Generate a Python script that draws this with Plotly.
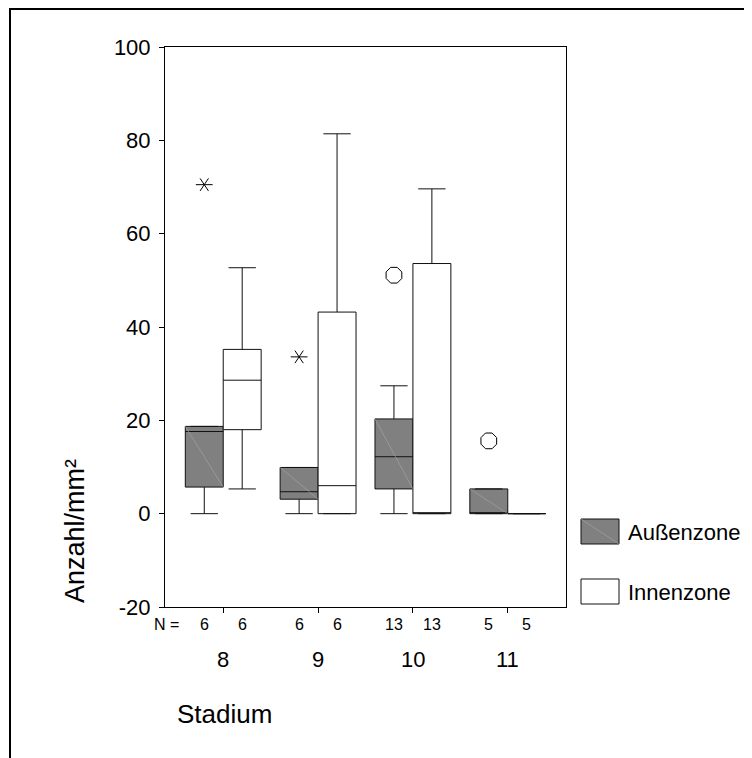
import plotly.graph_objects as go

# ---- data ----
stadien = ["8", "9", "10", "11"]
n_aussen = [6, 6, 13, 5]
n_innen = [6, 6, 13, 5]

aussen_q1 = [5.7, 3.1, 5.3, 0.0]
aussen_median = [17.6, 4.7, 12.2, 0.0]
aussen_q3 = [18.7, 9.9, 20.3, 5.3]
aussen_lower = [0.0, 0.0, 0.0, 0.0]
aussen_upper = [18.7, 9.9, 27.4, 5.3]

innen_q1 = [18.0, 0.0, 0.0, 0.0]
innen_median = [28.6, 6.0, 0.0, 0.0]
innen_q3 = [35.2, 43.2, 53.6, 0.0]
innen_lower = [5.3, 0.0, 0.0, 0.0]
innen_upper = [52.7, 81.4, 69.6, 0.0]

# outliers of the Außenzone (extremes = star, outliers = circle)
extreme_stadium_idx = [0, 1]
extreme_values = [70.5, 33.6]
outlier_stadium_idx = [2, 3]
outlier_values = [51.1, 15.6]

y_ticks = [-20, 0, 20, 40, 60, 80, 100]
y_ticktext = ["-20", "0", "20", "40", "60", "80", "100"]

FONT = "Arial, Liberation Sans, sans-serif"
GREY = "#808080"
# page body has an 8px default margin: work in page pixels, shift by it
OFF_PAGE = 8
W, H = 752 - OFF_PAGE, 758 - OFF_PAGE
PL, PR, PT, PB = 165, 566, 47, 607  # plot area in page pixels
L, T = PL - OFF_PAGE, PT - OFF_PAGE
R = W - (PR - OFF_PAGE)
B = H - (PB - OFF_PAGE)
PW, PH = PR - PL, PB - PT

def px_x(px):
    return (px - PL) / PW

def px_y(py):
    return (PB - py) / PH

idx = list(range(len(stadien)))
OFF = 0.2

fig = go.Figure()
fig.add_trace(go.Box(
    x=idx, q1=aussen_q1, median=aussen_median, q3=aussen_q3,
    lowerfence=aussen_lower, upperfence=aussen_upper,
    name="Außenzone", fillcolor=GREY, line=dict(color="#111111", width=1),
    whiskerwidth=0.72, boxpoints=False, showlegend=False, hoverinfo="skip",
))
fig.add_trace(go.Box(
    x=idx, q1=innen_q1, median=innen_median, q3=innen_q3,
    lowerfence=innen_lower, upperfence=innen_upper,
    name="Innenzone", fillcolor="white", line=dict(color="#111111", width=1),
    whiskerwidth=0.72, boxpoints=False, showlegend=False, hoverinfo="skip",
))

# extremes as six-armed stars (two Y symbols combined)
ex_x = [i - OFF for i in extreme_stadium_idx]
for sym in ["y-left-open", "y-right-open"]:
    fig.add_trace(go.Scatter(
        x=ex_x, y=extreme_values, mode="markers",
        marker=dict(symbol=sym, size=10.5, color="black",
                    line=dict(color="black", width=1)),
        showlegend=False, hoverinfo="skip",
    ))
fig.add_trace(go.Scatter(
    x=[i - OFF for i in outlier_stadium_idx], y=outlier_values, mode="markers",
    marker=dict(symbol="octagon-open", size=17, color="black",
                line=dict(color="black", width=1)),
    showlegend=False, hoverinfo="skip",
))

shapes = []
# faint diagonal artefact inside grey boxes
for i in idx:
    shapes.append(dict(type="line", xref="x", yref="y",
                       x0=i - 2 * OFF, y0=aussen_q3[i], x1=i, y1=aussen_q1[i],
                       line=dict(color="#a8a8a8", width=0.6), layer="above"))

# outer frame
shapes.append(dict(type="rect", xref="paper", yref="paper",
                   x0=px_x(10), y0=px_y(800), x1=px_x(800), y1=px_y(9),
                   line=dict(color="black", width=2), fillcolor="rgba(0,0,0,0)"))

# legend boxes
shapes.append(dict(type="rect", xref="paper", yref="paper",
                   x0=px_x(581), x1=px_x(619), y0=px_y(544), y1=px_y(519),
                   line=dict(color="#111111", width=1), fillcolor=GREY))
shapes.append(dict(type="line", xref="paper", yref="paper",
                   x0=px_x(581), x1=px_x(619), y0=px_y(519), y1=px_y(544),
                   line=dict(color="#a8a8a8", width=0.6)))
shapes.append(dict(type="rect", xref="paper", yref="paper",
                   x0=px_x(581), x1=px_x(619), y0=px_y(604), y1=px_y(579),
                   line=dict(color="#111111", width=1), fillcolor="white"))

annotations = []
annotations.append(dict(text="Außenzone", xref="paper", yref="paper",
                        x=px_x(626), y=px_y(532), xanchor="left", yanchor="middle",
                        showarrow=False, font=dict(family=FONT, size=22, color="black")))
annotations.append(dict(text="Innenzone", xref="paper", yref="paper",
                        x=px_x(626), y=px_y(592), xanchor="left", yanchor="middle",
                        showarrow=False, font=dict(family=FONT, size=22, color="black")))

# N row
annotations.append(dict(text="N =", xref="paper", yref="paper",
                        x=px_x(166), y=px_y(625), xanchor="center", yanchor="middle",
                        showarrow=False, font=dict(family=FONT, size=16, color="black")))
for i in idx:
    annotations.append(dict(text=str(n_aussen[i]), xref="x", yref="paper",
                            x=i - OFF, y=px_y(625), xanchor="center", yanchor="middle",
                            showarrow=False, font=dict(family=FONT, size=16, color="black")))
    annotations.append(dict(text=str(n_innen[i]), xref="x", yref="paper",
                            x=i + OFF, y=px_y(625), xanchor="center", yanchor="middle",
                            showarrow=False, font=dict(family=FONT, size=16, color="black")))
    annotations.append(dict(text=stadien[i], xref="x", yref="paper",
                            x=i, y=px_y(659), xanchor="center", yanchor="middle",
                            showarrow=False, font=dict(family=FONT, size=22, color="black")))

annotations.append(dict(text="Stadium", xref="paper", yref="paper",
                        x=px_x(224), y=px_y(714), xanchor="center", yanchor="middle",
                        showarrow=False, font=dict(family=FONT, size=26, color="black")))
annotations.append(dict(text="Anzahl/mm²", xref="paper", yref="paper",
                        x=px_x(75), y=px_y(531), xanchor="center", yanchor="middle",
                        textangle=-90,
                        showarrow=False, font=dict(family=FONT, size=27, color="black")))

fig.update_layout(
    width=W, height=H,
    margin=dict(l=L, r=R, t=T, b=B, pad=0),
    paper_bgcolor="white", plot_bgcolor="white",
    boxmode="group", boxgap=0.2, boxgroupgap=0.0,
    shapes=shapes, annotations=annotations,
    showlegend=False,
    font=dict(family=FONT, color="black"),
)
fig.update_xaxes(
    range=[-0.614, 3.614], tickvals=idx, ticktext=["" for _ in idx],
    ticks="outside", ticklen=5, tickcolor="black", tickwidth=1,
    showline=True, linecolor="black", linewidth=1, mirror=True,
    showgrid=False, zeroline=False,
)
fig.update_yaxes(
    range=[-20, 100], tickvals=y_ticks, ticktext=y_ticktext,
    ticks="outside", ticklen=5, ticklabelstandoff=4,
    tickcolor="black", tickwidth=1,
    tickfont=dict(family=FONT, size=22, color="black"),
    showline=True, linecolor="black", linewidth=1, mirror=True,
    showgrid=False, zeroline=False,
)

fig.write_html("out.html")
